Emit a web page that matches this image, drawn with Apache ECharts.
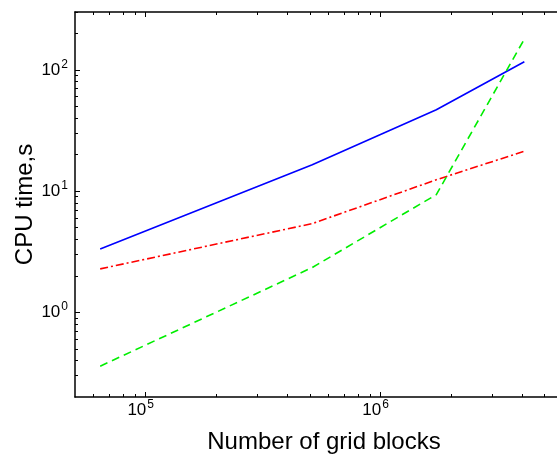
<!DOCTYPE html>
<html>
<head>
    <meta charset="UTF-8">
    <title>CPU time vs grid blocks</title>
    <script type="text/javascript" src="https://cdn.jsdelivr.net/npm/echarts@6.0.0/dist/echarts.min.js"></script>
    <style>
        html, body { margin: 0; padding: 0; background: #fff; }
        #chart { width: 557px; height: 456px; }
    </style>
</head>
<body>
<div id="chart"></div>
<script type="text/javascript">
    // number of grid blocks (x) and CPU time in seconds (y) for the three runs
    var blocks = [64000, 512000, 1728000, 4096000];
    var cpuSolid = [3.33, 16.5, 46.9, 116.6];
    var cpuDashDot = [2.28, 5.39, 12.4, 21.3];
    var cpuDashed = [0.359, 2.34, 9.34, 179.5];

    // ticks
    var xMajor = [1e5, 1e6];
    var xMinor = [6e4, 7e4, 8e4, 9e4, 2e5, 3e5, 4e5, 5e5, 6e5, 7e5, 8e5, 9e5, 2e6, 3e6, 4e6, 5e6, 6e6];
    var yMajor = [1, 10, 100];
    var yMinor = [0.3, 0.4, 0.5, 0.6, 0.7, 0.8, 0.9, 2, 3, 4, 5, 6, 7, 8, 9, 20, 30, 40, 50, 60, 70, 80, 90, 200, 300];

    var xMin = 5e4, xMax = 6.6e6;
    var yMin = 0.2, yMax = 300;

    var font = "'Liberation Sans', Arial, Helvetica, sans-serif";

    function pairs(xs, ys) {
        var out = [];
        for (var i = 0; i < xs.length; i++) {
            out.push([xs[i], ys[i]]);
        }
        return out;
    }

    function powLabel(v) {
        var e = Math.round(Math.log(v) / Math.LN10);
        return '{b|10}{s|' + e + '}';
    }

    var rich = {
        b: {fontSize: 17, fontFamily: font, color: '#000'},
        s: {fontSize: 12, fontFamily: font, color: '#000', padding: [0, 0, 11, 1]}
    };

    function tickAxis(pos, ticks, len, withLine) {
        return {
            type: 'log',
            logBase: 10,
            position: pos,
            min: (pos === 'left' || pos === 'right') ? yMin : xMin,
            max: (pos === 'left' || pos === 'right') ? yMax : xMax,
            axisLine: {show: withLine, lineStyle: {color: '#000', width: 1.5}},
            axisTick: {show: true, inside: true, length: len, customValues: ticks, lineStyle: {color: '#000', width: 1}},
            axisLabel: {show: false},
            splitLine: {show: false},
            minorTick: {show: false},
            silent: true
        };
    }

    var xMain = tickAxis('bottom', xMajor, 5, true);
    xMain.axisLabel = {
        show: true,
        customValues: xMajor,
        formatter: powLabel,
        rich: rich,
        margin: 2,
        padding: [0, 10, 0, 0]
    };
    xMain.name = 'Number of grid blocks';
    xMain.nameLocation = 'middle';
    xMain.nameGap = 33;
    xMain.nameMoveOverlap = false;
    xMain.nameTextStyle = {fontSize: 24, fontFamily: font, color: '#000'};

    var yMain = tickAxis('left', yMajor, 5, true);
    yMain.axisLabel = {
        show: true,
        customValues: yMajor,
        formatter: powLabel,
        rich: rich,
        margin: 7
    };
    yMain.name = 'CPU time,s';
    yMain.nameLocation = 'middle';
    yMain.nameGap = 38;
    yMain.nameMoveOverlap = false;
    yMain.nameTextStyle = {fontSize: 24, fontFamily: font, color: '#000'};

    var chart = echarts.init(document.getElementById('chart'), null, {renderer: 'canvas'});
    chart.setOption({
        animation: false,
        backgroundColor: '#fff',
        grid: {left: 75, right: -16, top: 12, bottom: 59, outerBoundsMode: 'none', containLabel: false},
        xAxis: [
            xMain,
            tickAxis('bottom', xMinor, 3, false),
            tickAxis('top', xMajor, 5, true),
            tickAxis('top', xMinor, 3, false)
        ],
        yAxis: [
            yMain,
            tickAxis('left', yMinor, 3, false)
        ],
        series: [
            {
                type: 'line',
                xAxisIndex: 0,
                yAxisIndex: 0,
                data: pairs(blocks, cpuSolid),
                showSymbol: false,
                lineStyle: {color: '#0000ff', width: 1.6, type: 'solid'}
            },
            {
                type: 'line',
                xAxisIndex: 0,
                yAxisIndex: 0,
                data: pairs(blocks, cpuDashDot),
                showSymbol: false,
                lineStyle: {color: '#ff0000', width: 1.6, type: [8, 3, 2, 3]}
            },
            {
                type: 'line',
                xAxisIndex: 0,
                yAxisIndex: 0,
                data: pairs(blocks, cpuDashed),
                showSymbol: false,
                lineStyle: {color: '#00ee00', width: 1.6, type: [8, 5]}
            }
        ]
    });
</script>
</body>
</html>
